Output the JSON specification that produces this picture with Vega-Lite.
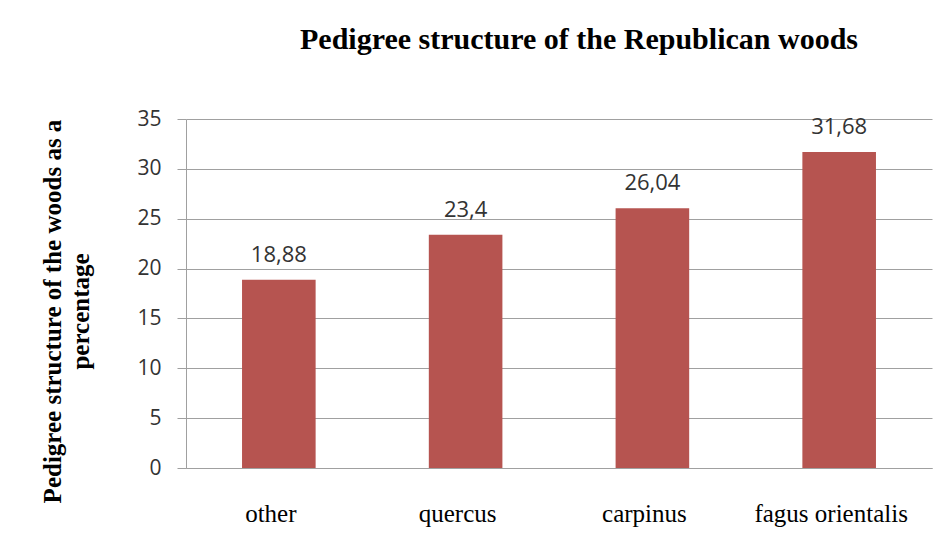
{
  "$schema": "https://vega.github.io/schema/vega-lite/v6.json",
  "width": 746,
  "height": 349,
  "autosize": {"type": "none"},
  "padding": {"left": 186, "top": 119, "right": 11, "bottom": 78},
  "background": "white",
  "config": {
    "view": {"stroke": null},
    "locale": {"number": {"decimal": ",", "thousands": ".", "grouping": [3], "currency": ["", ""]}}
  },
  "title": {
    "text": "Pedigree structure of the Republican woods",
    "font": "Liberation Serif",
    "fontSize": 30,
    "fontWeight": "bold",
    "color": "black",
    "anchor": "middle",
    "dx": 20,
    "baseline": "alphabetic",
    "offset": 29
  },
  "data": {
    "values": [
      {"species": "other", "value": 18.88},
      {"species": "quercus", "value": 23.4},
      {"species": "carpinus", "value": 26.04},
      {"species": "fagus orientalis", "value": 31.68}
    ]
  },
  "encoding": {
    "x": {
      "field": "species",
      "type": "nominal",
      "sort": null,
      "scale": {"paddingInner": 0.606, "paddingOuter": 0.3},
      "axis": {
        "title": null,
        "labelAngle": 0,
        "ticks": false,
        "tickSize": 0,
        "grid": false,
        "domainColor": "#a0a0a0",
        "labelFont": "Liberation Serif",
        "labelFontSize": 25,
        "labelColor": "black",
        "labelPadding": 33,
        "labelOffset": -8
      }
    },
    "y": {
      "field": "value",
      "type": "quantitative",
      "scale": {"domain": [0, 35]},
      "axis": {
        "values": [0, 5, 10, 15, 20, 25, 30, 35],
        "title": ["Pedigree structure of the woods as a", "percentage"],
        "titleFont": "Liberation Serif",
        "titleFontSize": 25,
        "titleFontWeight": "bold",
        "titleColor": "black",
        "titleAngle": 270,
        "titleAlign": "center",
        "titleBaseline": "alphabetic",
        "titleLineHeight": 28,
        "titleX": -126,
        "titleY": 192,
        "domainColor": "#a0a0a0",
        "tickColor": "#a0a0a0",
        "tickSize": 9,
        "gridColor": "#a0a0a0",
        "labelFont": "Open Sans",
        "labelFontSize": 21,
        "labelColor": "#333333",
        "labelPadding": 16
      }
    }
  },
  "layer": [
    {"mark": {"type": "bar", "color": "#B65450"}},
    {
      "mark": {
        "type": "text",
        "dy": -18,
        "baseline": "alphabetic",
        "font": "Open Sans",
        "fontSize": 22,
        "color": "#333333"
      },
      "encoding": {"text": {"field": "value", "type": "quantitative", "format": ".2~f"}}
    }
  ]
}
